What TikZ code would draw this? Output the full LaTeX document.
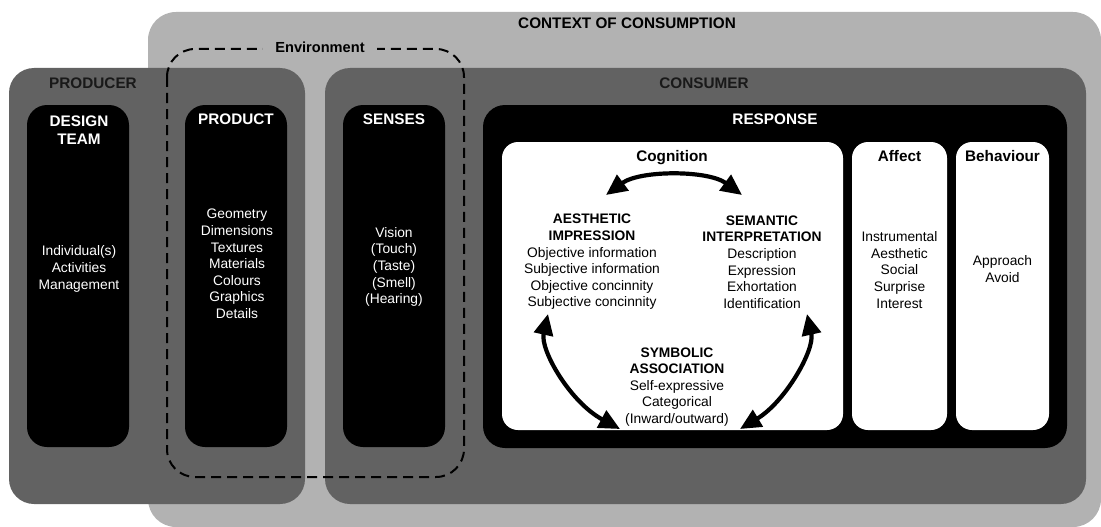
\documentclass[tikz,border=0pt]{standalone}
\usepackage{fontspec}
\setmainfont{Liberation Sans}
\usetikzlibrary{arrows.meta}
\definecolor{ctxgray}{HTML}{B2B2B2}
\definecolor{partgray}{HTML}{626262}
\begin{document}
\begin{tikzpicture}[x=1pt,y=-1pt,
  every node/.style={inner sep=0pt, outer sep=0pt},
  panel/.style={fill=#1, draw=none},
  blackbox/.style={fill=black, rounded corners=20, minimum width=102, minimum height=342},
  whitebox/.style={fill=white, rounded corners=16, minimum height=288},
  head/.style={font=\fontsize{15.3}{17.5}\selectfont\bfseries, text height=0.72em, text depth=0pt, align=center},
  headw/.style={head, text=white},
  headlines/.style={font=\fontsize{15.3}{17.5}\selectfont\bfseries, align=center, text=white},
  body/.style={font=\fontsize{13.8}{16.6}\selectfont, align=center},
  bodyw/.style={body, text=white},
  cogarrow/.style={line width=4.2pt, {Triangle[length=21pt,width=19pt]}-{Triangle[length=21pt,width=19pt]}}
]
\useasboundingbox (0,0) rectangle (1101,527);

% outer context
\node[panel=ctxgray, rounded corners=28, minimum width=953, minimum height=515] (context) at (624.5,269.5) {};
\node[head] (contextlbl) at (627,25) {CONTEXT OF CONSUMPTION};

% producer and consumer panels
\node[panel=partgray, rounded corners=25, minimum width=296, minimum height=436] (producer) at (157,286) {};
\node[panel=partgray, rounded corners=25, minimum width=761, minimum height=436] (consumer) at (705.5,286) {};
\node[head, text=black!90] (producerlbl) at (93,85) {PRODUCER};
\node[head, text=black!90] (consumerlbl) at (704,85) {CONSUMER};

% environment boundary
\draw[line width=2pt, dash pattern=on 10pt off 6pt, rounded corners=28] (167,49) rectangle (464,477);
\node[head, font=\fontsize{14.6}{17}\selectfont\bfseries, fill=ctxgray, inner xsep=12pt, inner ysep=3pt] (envlbl) at (320,49) {Environment};

% producer side columns
\node[blackbox] (design) at (78,276) {};
\node[blackbox] (product) at (236,276) {};
\node[blackbox] (senses) at (394,276) {};
\node[headlines] (designlbl) at (79,130) {DESIGN\\TEAM};
\node[headw] (productlbl) at (236,121) {PRODUCT};
\node[headw] (senseslbl) at (394,121) {SENSES};
\node[bodyw] (designtxt) at (79,269) {Individual(s)\\Activities\\Management};
\node[bodyw] (producttxt) at (237,264) {Geometry\\Dimensions\\Textures\\Materials\\Colours\\Graphics\\Details};
\node[bodyw] (sensestxt) at (394,267) {Vision\\(Touch)\\(Taste)\\(Smell)\\(Hearing)};

% response
\node[fill=black, rounded corners=22, minimum width=584, minimum height=343] (response) at (775,276.5) {};
\node[headw] (responselbl) at (775,121) {RESPONSE};
\node[whitebox, minimum width=341] (cognition) at (672.5,286) {};
\node[whitebox, minimum width=95] (affect) at (899.5,286) {};
\node[whitebox, minimum width=93] (behaviour) at (1002.5,286) {};
\node[head] (cognitionlbl) at (672,158) {Cognition};
\node[head] (affectlbl) at (899.5,158) {Affect};
\node[head] (behaviourlbl) at (1002.5,158) {Behaviour};

\node[body] (aesthetic) at (592,262) {\textbf{AESTHETIC}\\\textbf{IMPRESSION}\\Objective information\\Subjective information\\Objective concinnity\\Subjective concinnity};
\node[body] (semantic) at (762,262) {\textbf{SEMANTIC}\\\textbf{INTERPRETATION}\\Description\\Expression\\Exhortation\\Identification};
\node[body] (symbolic) at (677,387) {\textbf{SYMBOLIC}\\\textbf{ASSOCIATION}\\Self-expressive\\Categorical\\(Inward/outward)};
\node[body] (affecttxt) at (899.5,270) {Instrumental\\Aesthetic\\Social\\Surprise\\Interest};
\node[body] (behaviourtxt) at (1002.5,269) {Approach\\Avoid};

% links between the three cognitive aspects
\coordinate (aeTop) at (606,195);
\coordinate (seTop) at (742,195);
\coordinate (aeLow) at (548,314);
\coordinate (seLow) at (807,314);
\coordinate (syLeft) at (620,429);
\coordinate (syRight) at (740,429);
\draw[cogarrow] (aeTop) .. controls (640,170) and (708,170) .. (seTop);
\draw[cogarrow] (aeLow) .. controls (540,350) and (570,402) .. (syLeft);
\draw[cogarrow] (seLow) .. controls (815,350) and (785,402) .. (syRight);
\end{tikzpicture}
\end{document}
